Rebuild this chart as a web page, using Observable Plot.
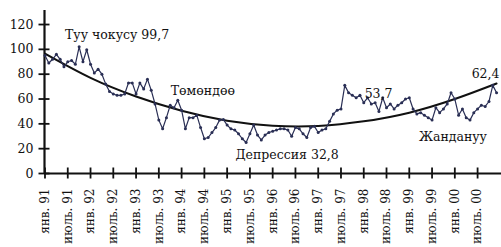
<!DOCTYPE html>
<html><head><meta charset="utf-8">
<script src="https://cdn.jsdelivr.net/npm/d3@7"></script>
<script src="https://cdn.jsdelivr.net/npm/@observablehq/plot@0.6"></script>
<style>
html,body{margin:0;padding:0;background:#fff;}
</style></head><body><div id="chart"></div>
<script>
// Monthly index, Jan 1991 = 0 ... Dec 2000 = 119
const values = [
  95, 89, 92, 96, 92, 86, 90, 91, 88, 102, 90, 99.7,
  88, 81, 84, 80, 72, 66, 64, 63, 63, 64, 73, 73,
  64, 73, 68, 76, 67, 56, 43, 36, 45, 55, 53, 59,
  51, 36, 45, 45, 47, 37, 28, 29, 33, 37, 43, 43.5,
  39, 36, 35, 32, 28, 25, 32, 39, 31, 27, 31, 33,
  34, 35, 36, 36, 35, 30, 37, 36, 32, 29, 37, 38,
  33, 35, 36, 42, 48, 51, 52, 71, 65, 63, 61, 63,
  57, 61, 56, 57, 50, 61, 53, 56, 52, 55, 57, 60,
  61, 52, 48, 49, 47, 45, 43, 53, 49, 52, 56, 65,
  60, 47, 52, 45, 43, 49, 52, 55, 54, 58, 71, 65
];
const trendMonths = [0, 12, 24, 36, 48, 60, 72, 84, 96, 108, 119];
const trendValues = [96.5, 77, 62, 50.5, 42.5, 38.5, 38.3, 42, 49, 60, 72.5];
const tickMonths = [0, 6, 12, 18, 24, 30, 36, 42, 48, 54, 60, 66, 72, 78, 84, 90, 96, 102, 108, 114];
const tickLabels = ["янв. 91","июль. 91","янв. 92","июль. 92","янв. 93","июль. 93","янв. 94","июль. 94",
  "янв. 95","июль. 95","янв. 96","июль. 96","янв. 97","июль. 97","янв. 98","июль. 98",
  "янв. 99","июль. 99","янв. 00","июль. 00"];
const yTicks = [0, 20, 40, 60, 80, 100, 120];
const annoText = ["Туу чокусу 99,7", "Төмөндөө", "Депрессия 32,8", "53,7", "62,4", "Жандануу"];
const annoMonth = [19.0, 41.6, 63.8, 87.9, 116.1, 107.5];
const annoValue = [111.2, 66.5, 15.3, 64.4, 80.5, 29.8];

const xDomain = [-0.13, 120.3];
const yDomain = [0, 131.3];
const ink = "#111";
const lineColor = "#2a2f55";
const font = "DejaVu Serif";

const annotations = annoText.map((t, i) => ({text: t, month: annoMonth[i], value: annoValue[i]}));

const chart = Plot.plot({
  width: 501,
  height: 247,
  marginLeft: 44,
  marginRight: 0,
  marginTop: 10,
  marginBottom: 74,
  style: {fontFamily: font, fontSize: "12.5px", color: ink, background: "#fff"},
  x: {type: "linear", domain: xDomain},
  y: {type: "linear", domain: yDomain},
  marks: [
    Plot.axisY({ticks: yTicks, tickSize: 11, dx: 5.5, tickFormat: () => "", stroke: ink, strokeWidth: 1.8, label: null}),
    Plot.axisY({ticks: yTicks, tickSize: 0, tickPadding: 11, fontSize: 12.5, fill: ink, label: null}),
    Plot.axisX({ticks: tickMonths, tickSize: 11, dy: -5.5, tickFormat: () => "", stroke: ink, strokeWidth: 1.8, label: null}),
    Plot.axisX({ticks: tickMonths, tickSize: 0, tickRotate: -90, tickPadding: 15, fontSize: 12, fill: ink,
      tickFormat: d => tickLabels[tickMonths.indexOf(d)], label: null}),
    Plot.ruleY([yDomain[0]], {stroke: ink, strokeWidth: 2.2}),
    Plot.ruleX([xDomain[0]], {stroke: ink, strokeWidth: 2.2}),
    Plot.line(trendMonths, {x: d => d, y: (d, i) => trendValues[i], curve: "natural", stroke: ink, strokeWidth: 2}),
    Plot.line(values, {x: (d, i) => i, y: d => d, stroke: lineColor, strokeWidth: 1.2}),
    Plot.dot(values, {x: (d, i) => i, y: d => d, r: 1.5, fill: lineColor, stroke: null}),
    Plot.text(annotations, {x: "month", y: "value", text: "text", fontSize: 12.5, fill: ink, fontFamily: font})
  ]
});
document.getElementById("chart").appendChild(chart);
</script>
</body></html>
